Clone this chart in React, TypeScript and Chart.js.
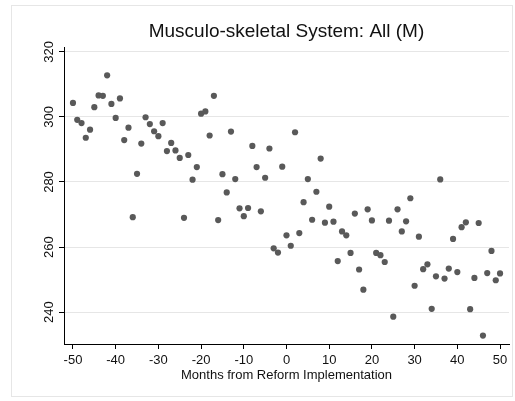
import React, { useEffect, useRef } from "react";
import { Chart, registerables } from "chart.js";

Chart.register(...registerables);

const titleText = "Musculo-skeletal System: All (M)";
const xAxisTitle = "Months from Reform Implementation";

const months: number[] = [
  -50, -49, -48, -47, -46, -45, -44, -43, -42, -41,
  -40, -39, -38, -37, -36, -35, -34, -33, -32, -31,
  -30, -29, -28, -27, -26, -25, -24, -23, -22, -21,
  -20, -19, -18, -17, -16, -15, -14, -13, -12, -11,
  -10, -9, -8, -7, -6, -5, -4, -3, -2, -1,
  0, 1, 2, 3, 4, 5, 6, 7, 8, 9,
  10, 11, 12, 13, 14, 15, 16, 17, 18, 19,
  20, 21, 22, 23, 24, 25, 26, 27, 28, 29,
  30, 31, 32, 33, 34, 35, 36, 37, 38, 39,
  40, 41, 42, 43, 44, 45, 46, 47, 48, 49, 50,
];

const values: number[] = [
  304.3, 299.1, 298.1, 293.6, 296.1, 303.0, 306.6, 306.5, 312.8, 304.0,
  299.7, 305.7, 292.9, 296.7, 269.2, 282.5, 291.8, 299.9, 297.8, 295.6,
  294.1, 298.1, 289.5, 292.0, 289.7, 287.4, 269.0, 288.3, 280.7, 284.6,
  301.0, 301.7, 294.3, 306.5, 268.3, 282.4, 276.8, 295.5, 280.9, 271.9,
  269.5, 272.0, 291.1, 284.6, 271.0, 281.3, 290.3, 259.6, 258.3, 284.7,
  263.6, 260.4, 295.3, 264.3, 273.8, 280.9, 268.4, 277.0, 287.2, 267.5,
  272.4, 267.8, 255.7, 264.8, 263.6, 258.2, 270.3, 253.1, 246.9, 271.6,
  268.2, 258.2, 257.5, 255.4, 268.1, 238.6, 271.6, 264.8, 267.9, 275.0,
  248.1, 263.2, 253.2, 254.7, 241.0, 251.0, 280.8, 250.3, 253.4, 262.5,
  252.3, 266.1, 267.6, 240.9, 250.5, 267.4, 232.8, 252.0, 258.8, 249.8, 251.9,
];

const xTicks: number[] = [-50, -40, -30, -20, -10, 0, 10, 20, 30, 40, 50];
const yTicks: number[] = [240, 260, 280, 300, 320];

const FONT = "'Liberation Sans', Arial, Helvetica, sans-serif";

const framePlugin = {
  id: "frame",
  beforeDraw(chart: any) {
    const ctx = chart.ctx;
    ctx.save();
    ctx.fillStyle = "#ffffff";
    ctx.fillRect(0, 0, chart.width, chart.height);
    ctx.strokeStyle = "#e6e6e6";
    ctx.lineWidth = 1;
    ctx.strokeRect(11.5, 5.5, 501, 391);
    ctx.restore();
  },
  afterDraw(chart: any) {
    const ctx = chart.ctx;
    const area = chart.chartArea;
    ctx.save();
    ctx.fillStyle = "#111111";
    ctx.font = `19px ${FONT}`;
    ctx.textAlign = "center";
    ctx.textBaseline = "middle";
    ctx.fillText(titleText, (area.left + area.right) / 2, 32);
    ctx.restore();
  },
};

export default function App() {
  const ref = useRef<HTMLCanvasElement>(null);

  useEffect(() => {
    if (!ref.current) return;
    const chart = new Chart(ref.current, {
      type: "scatter",
      data: {
        datasets: [
          {
            data: months.map((m, i) => ({ x: m, y: values[i] })),
            backgroundColor: "#595959",
            borderWidth: 0,
            pointRadius: 3.1,
            pointHoverRadius: 3.1,
          },
        ],
      },
      options: {
        responsive: false,
        animation: false,
        devicePixelRatio: 1,
        layout: { padding: { top: 47, right: 6, left: 0, bottom: 0 } },
        plugins: {
          legend: { display: false },
          tooltip: { enabled: false },
          title: { display: false },
        },
        scales: {
          x: {
            type: "linear",
            min: -52.1,
            max: 52.1,
            afterBuildTicks: (scale: any) => {
              scale.ticks = xTicks.map((v) => ({ value: v }));
            },
            afterFit: (scale: any) => {
              scale.height = 57;
            },
            ticks: {
              color: "#111111",
              font: { family: FONT, size: 13 },
              padding: 4,
              maxRotation: 0,
              minRotation: 0,
              autoSkip: false,
            },
            grid: {
              color: "rgba(0,0,0,0)",
              tickColor: "#000000",
              tickLength: 5,
              drawTicks: true,
            },
            border: { display: true, color: "#000000", width: 1 },
            title: {
              display: true,
              text: xAxisTitle,
              color: "#111111",
              font: { family: FONT, size: 13 },
              padding: { top: 0, bottom: 18 },
            },
          },
          y: {
            type: "linear",
            min: 230.2,
            max: 321.5,
            afterBuildTicks: (scale: any) => {
              scale.ticks = yTicks.map((v) => ({ value: v }));
            },
            afterFit: (scale: any) => {
              scale.width = 64;
            },
            ticks: {
              color: "#111111",
              font: { family: FONT, size: 13 },
              padding: -1,
              minRotation: 90,
              maxRotation: 90,
              crossAlign: "center",
              autoSkip: false,
            },
            grid: {
              color: "#e6e6e6",
              tickColor: "#000000",
              tickLength: 5,
              drawTicks: true,
            },
            border: { display: true, color: "#000000", width: 1 },
          },
        },
      },
      plugins: [framePlugin],
    });
    return () => chart.destroy();
  }, []);

  return (
    <div style={{ position: "fixed", left: 0, top: 0, width: 515, height: 401 }}>
      <canvas ref={ref} width={515} height={401} style={{ display: "block" }} />
    </div>
  );
}
